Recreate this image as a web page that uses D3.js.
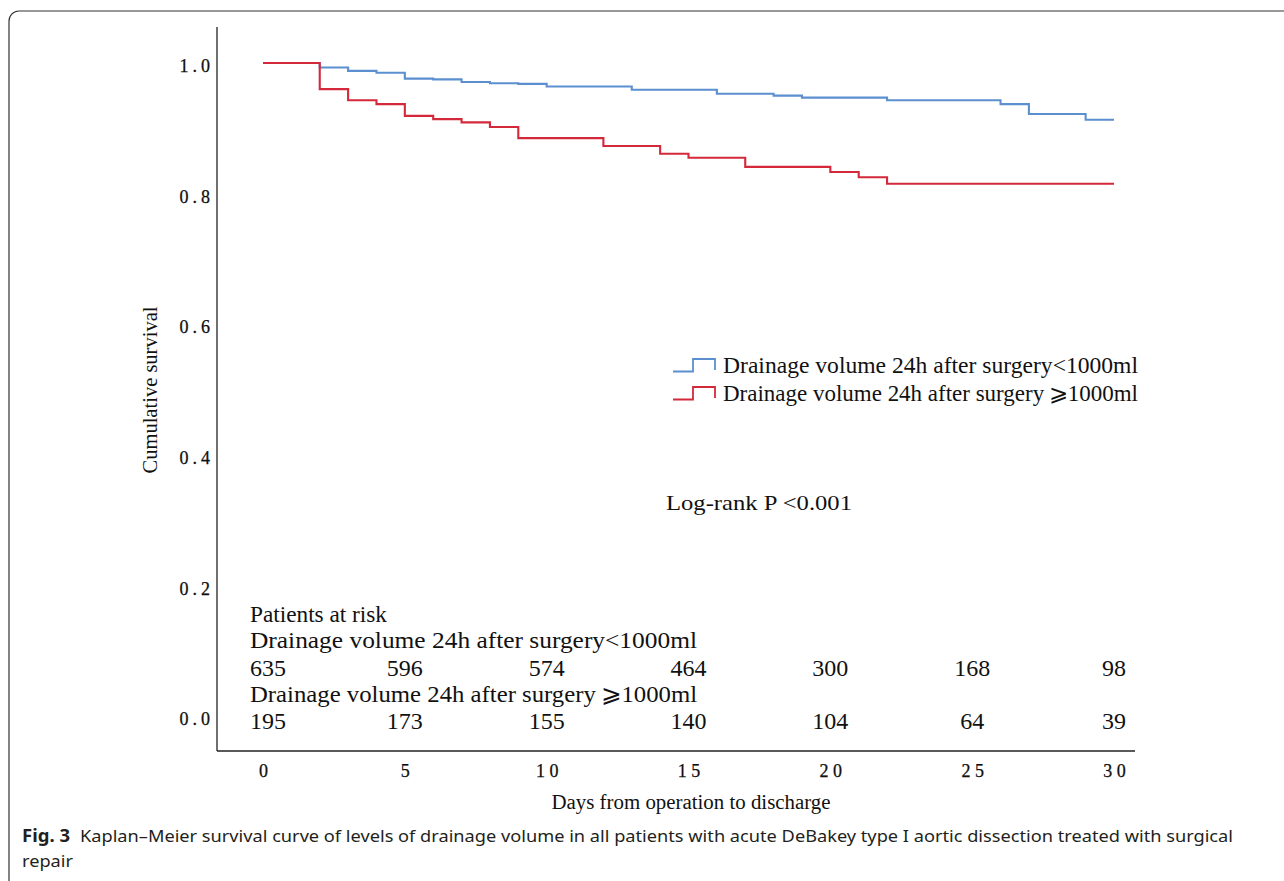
<!DOCTYPE html>
<html>
<head>
  <meta charset="utf-8">
  <title>Kaplan-Meier</title>
  <script src="https://d3js.org/d3.v7.min.js"></script>
  <style>
    body { margin: 0; background: #fff; }
    text { font-family: "Liberation Serif", "Times New Roman", serif; fill: #111; }
    .cap { font-family: "Noto Sans", sans-serif; fill: #231f20; }
  </style>
</head>
<body>
<script>
  // data
  var days = [0, 5, 10, 15, 20, 25, 30];
  var survTicks = [0, 0.2, 0.4, 0.6, 0.8, 1.0];

  var lowTimes = [0, 2, 3, 4, 5, 6, 7, 8, 9, 10, 13, 16, 18, 19, 22, 26, 27, 29, 30];
  var lowSurv  = [1, 0.993, 0.988, 0.985, 0.976, 0.975, 0.971, 0.969, 0.968, 0.964, 0.959, 0.953, 0.950, 0.947, 0.943, 0.937, 0.922, 0.913, 0.913];

  var highTimes = [0, 2, 3, 4, 5, 6, 7, 8, 9, 12, 14, 15, 17, 20, 21, 22, 30];
  var highSurv  = [1, 0.960, 0.943, 0.937, 0.919, 0.914, 0.909, 0.902, 0.885, 0.873, 0.861, 0.855, 0.841, 0.833, 0.825, 0.815, 0.815];

  var groupNames = ['Drainage volume 24h after surgery<1000ml', 'Drainage volume 24h after surgery\u2009\u2A7E1000ml'];
  var groupColors = ['#5b8fcf', '#d3293b'];
  var riskLow  = [635, 596, 574, 464, 300, 168, 98];
  var riskHigh = [195, 173, 155, 140, 104, 64, 39];

  var width = 1284,
      height = 881;

  var svg = d3.select('body')
    .append('svg')
    .attr('width', width)
    .attr('height', height);

  // figure frame (rounded top-left corner)
  svg.append('path')
    .attr('d', 'M9,881 V21 A10,10 0 0 1 19,11 H1284')
    .attr('fill', 'none')
    .attr('stroke', '#333')
    .attr('stroke-width', 1.2);

  var x = d3.scaleLinear().domain([0, 30]).range([263, 1114]);
  var y = d3.scaleLinear().domain([0, 1]).range([716, 63]);

  // axis lines
  svg.append('line')
    .attr('x1', 217).attr('x2', 217).attr('y1', 27).attr('y2', 751)
    .attr('stroke', '#222').attr('stroke-width', 1.3);
  svg.append('line')
    .attr('x1', 217).attr('x2', 1135).attr('y1', 751).attr('y2', 751)
    .attr('stroke', '#222').attr('stroke-width', 1.3);

  var xAxis = svg.append('g')
    .attr('transform', 'translate(0,751)')
    .call(d3.axisBottom(x).tickValues(days).tickSize(0).tickPadding(13.5));
  xAxis.select('.domain').remove();
  xAxis.selectAll('text')
    .style('font-family', '"Liberation Serif", serif')
    .style('font-size', '18px')
    .style('letter-spacing', '4.5px')
    .attr('dx', 2.25)
    .attr('fill', '#000')
    .attr('stroke', '#000')
    .attr('stroke-width', 0.25);

  var yAxis = svg.append('g')
    .attr('transform', 'translate(217,0)')
    .call(d3.axisLeft(y).tickValues(survTicks).tickSize(0).tickPadding(3).tickFormat(d3.format('.1f')));
  yAxis.select('.domain').remove();
  yAxis.selectAll('text')
    .style('font-family', '"Liberation Serif", serif')
    .style('font-size', '18px')
    .style('letter-spacing', '4px')
    .attr('y', 3)
    .attr('fill', '#000')
    .attr('stroke', '#000')
    .attr('stroke-width', 0.25);

  // titles
  svg.append('text')
    .attr('transform', 'translate(157,390) rotate(-90)')
    .attr('text-anchor', 'middle')
    .attr('font-size', 20)
    .attr('textLength', 167)
    .attr('lengthAdjust', 'spacingAndGlyphs')
    .text('Cumulative survival');

  svg.append('text')
    .attr('x', 691).attr('y', 809)
    .attr('text-anchor', 'middle')
    .attr('font-size', 20)
    .attr('textLength', 279)
    .attr('lengthAdjust', 'spacingAndGlyphs')
    .text('Days from operation to discharge');

  // survival curves
  var line = d3.line()
    .x(function (d) { return x(d[0]); })
    .y(function (d) { return y(d[1]); })
    .curve(d3.curveStepAfter);

  var curves = [
    d3.zip(lowTimes, lowSurv),
    d3.zip(highTimes, highSurv)
  ];

  svg.append('g').selectAll('path')
    .data(curves)
    .enter()
    .append('path')
    .attr('d', line)
    .attr('fill', 'none')
    .attr('stroke', function (d, i) { return groupColors[i]; })
    .attr('stroke-width', 2.1);

  // legend
  var legend = svg.append('g').selectAll('g')
    .data(groupNames)
    .enter()
    .append('g')
    .attr('transform', function (d, i) { return 'translate(673,' + (371.5 + i * 28) + ')'; });

  legend.append('path')
    .attr('d', 'M0,0 H20 V-12.5 H42 V-1.5')
    .attr('fill', 'none')
    .attr('stroke', function (d, i) { return groupColors[i]; })
    .attr('stroke-width', 1.8);

  legend.append('text')
    .attr('x', 50).attr('y', 1)
    .attr('font-size', 23)
    .attr('textLength', 415)
    .attr('lengthAdjust', 'spacingAndGlyphs')
    .text(function (d) { return d; });

  svg.append('text')
    .attr('x', 666).attr('y', 510)
    .attr('font-size', 22)
    .attr('textLength', 186)
    .attr('lengthAdjust', 'spacingAndGlyphs')
    .text('Log-rank P <0.001');

  // patients at risk table
  svg.append('text')
    .attr('x', 250).attr('y', 621.5)
    .attr('font-size', 24)
    .attr('textLength', 137)
    .attr('lengthAdjust', 'spacingAndGlyphs')
    .text('Patients at risk');

  var riskRows = [riskLow, riskHigh];
  riskRows.forEach(function (row, i) {
    svg.append('text')
      .attr('x', 250).attr('y', 648 + i * 54)
      .attr('font-size', 24)
      .attr('textLength', 447)
      .attr('lengthAdjust', 'spacingAndGlyphs')
      .text(groupNames[i]);

    svg.append('g').selectAll('text')
      .data(row)
      .enter()
      .append('text')
      .attr('x', function (d, j) { return x(days[j]) + (j === 0 ? 5 : 0); })
      .attr('y', 675.5 + i * 53)
      .attr('text-anchor', 'middle')
      .attr('font-size', 24)
      .text(function (d) { return d; });
  });

  // caption
  svg.append('text')
    .attr('class', 'cap')
    .attr('x', 22).attr('y', 842)
    .attr('font-size', 17)
    .attr('font-weight', 'bold')
    .attr('textLength', 48)
    .attr('lengthAdjust', 'spacingAndGlyphs')
    .text('Fig. 3');

  svg.append('text')
    .attr('class', 'cap')
    .attr('x', 80).attr('y', 842)
    .attr('font-size', 17)
    .attr('textLength', 1153)
    .attr('lengthAdjust', 'spacingAndGlyphs')
    .text('Kaplan\u2013Meier survival curve of levels of drainage volume in all patients with acute DeBakey type I aortic dissection treated with surgical');

  svg.append('text')
    .attr('class', 'cap')
    .attr('x', 22).attr('y', 867)
    .attr('font-size', 17)
    .attr('textLength', 51)
    .attr('lengthAdjust', 'spacingAndGlyphs')
    .text('repair');
</script>
</body>
</html>
